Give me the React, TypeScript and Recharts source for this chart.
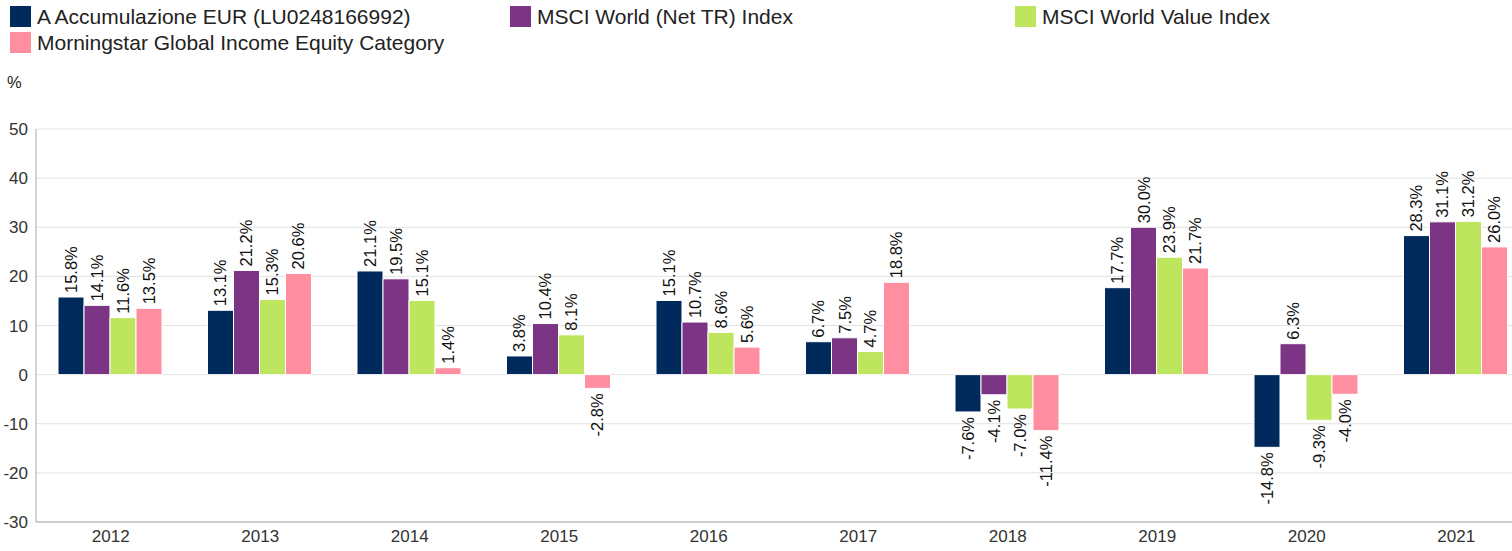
import React from 'react';
import { BarChart, Bar, XAxis, YAxis, CartesianGrid } from 'recharts';

const years = ['2012', '2013', '2014', '2015', '2016', '2017', '2018', '2019', '2020', '2021'];
const fund = [15.8, 13.1, 21.1, 3.8, 15.1, 6.7, -7.6, 17.7, -14.8, 28.3];
const msciWorld = [14.1, 21.2, 19.5, 10.4, 10.7, 7.5, -4.1, 30.0, 6.3, 31.1];
const msciValue = [11.6, 15.3, 15.1, 8.1, 8.6, 4.7, -7.0, 23.9, -9.3, 31.2];
const category = [13.5, 20.6, 1.4, -2.8, 5.6, 18.8, -11.4, 21.7, -4.0, 26.0];
const yTicks = [-30, -20, -10, 0, 10, 20, 30, 40, 50];

const seriesNames = [
  'A Accumulazione EUR (LU0248166992)',
  'MSCI World (Net TR) Index',
  'MSCI World Value Index',
  'Morningstar Global Income Equity Category',
];
const colors = ['#002a5c', '#7b3584', '#bde55e', '#ff8fa0'];
const keys = ['fund', 'msciWorld', 'msciValue', 'category'];

const data = years.map((y, i) => ({
  year: y,
  fund: fund[i],
  msciWorld: msciWorld[i],
  msciValue: msciValue[i],
  category: category[i],
}));

const FONT = 'Arial, "Liberation Sans", sans-serif';

const RotLabel = (props: any) => {
  const { x, y, width, height, value } = props;
  if (value === undefined || value === null) return null;
  const top = Math.min(y, y + height);
  const bottom = Math.max(y, y + height);
  const cx = x + width / 2;
  const pos = value >= 0;
  const ay = pos ? top - 4 : bottom + 5;
  return (
    <text
      x={cx}
      y={ay}
      transform={`rotate(-90, ${cx}, ${ay})`}
      textAnchor={pos ? 'start' : 'end'}
      dominantBaseline="central"
      fontSize={16.5}
      fontFamily={FONT}
      fill="#111"
    >
      {Number(value).toFixed(1) + '%'}
    </text>
  );
};

const legendCols = [10, 510, 1015];

export default function App() {
  return (
    <div style={{ position: 'absolute', left: 0, top: 0, width: 1512, height: 551, background: '#fff', fontFamily: FONT, overflow: 'hidden' }}>
      {seriesNames.map((name, i) => {
        const col = i % 3;
        const row = Math.floor(i / 3);
        return (
          <div
            key={name}
            style={{
              position: 'absolute',
              left: legendCols[col],
              top: 6 + row * 26,
              height: 21,
              display: 'flex',
              alignItems: 'center',
              whiteSpace: 'nowrap',
            }}
          >
            <div style={{ width: 21, height: 21, background: colors[i], marginRight: 6 }} />
            <span style={{ fontSize: 21, color: '#222', lineHeight: '21px' }}>{name}</span>
          </div>
        );
      })}
      <div style={{ position: 'absolute', left: 7, top: 72, fontSize: 16.5, color: '#222', lineHeight: '20px' }}>%</div>
      <div style={{ position: 'absolute', left: 0, top: 0 }}>
        <BarChart
          width={1531}
          height={551}
          data={data}
          margin={{ top: 129, right: 0, bottom: 0, left: 0 }}
          barCategoryGap={22}
          barGap={0}
        >
          <CartesianGrid vertical={false} stroke="#e2e2e2" />
          <XAxis
            dataKey="year"
            height={29}
            tickLine={false}
            axisLine={{ stroke: '#aaa' }}
            tick={{ fontSize: 17, fill: '#333', fontFamily: FONT }}
          />
          <YAxis
            width={36}
            domain={[-30, 50]}
            ticks={yTicks}
            interval={0}
            tickLine={false}
            axisLine={{ stroke: '#aaa' }}
            tick={{ fontSize: 17, fill: '#333', fontFamily: FONT }}
          />
          {keys.map((k, i) => (
            <Bar
              key={k}
              dataKey={k}
              name={seriesNames[i]}
              fill={colors[i]}
              stroke="#fff"
              strokeWidth={1}
              isAnimationActive={false}
              label={<RotLabel />}
            />
          ))}
        </BarChart>
      </div>
    </div>
  );
}
